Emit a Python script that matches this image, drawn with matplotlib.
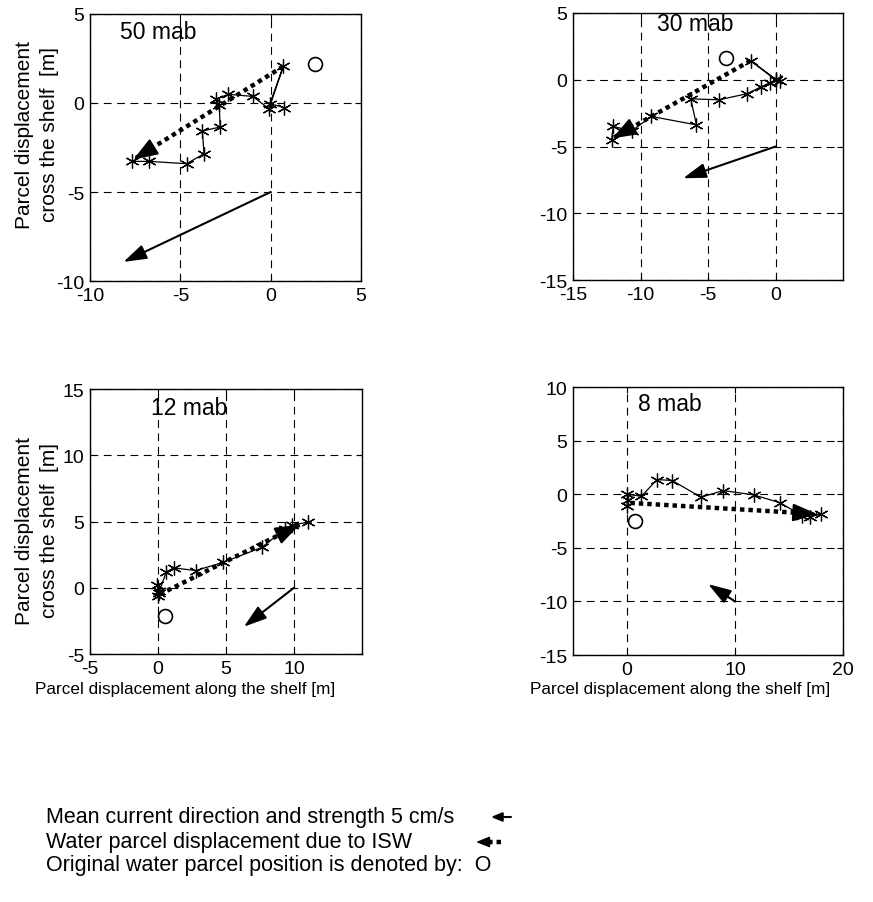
import numpy as np
import matplotlib
matplotlib.use("Agg")
import matplotlib.pyplot as plt
from matplotlib.patches import FancyArrowPatch
from matplotlib.lines import Line2D

plt.rcParams['font.family'] = ['Liberation Sans', 'DejaVu Sans']
plt.rcParams['axes.unicode_minus'] = False

# ---- data ---------------------------------------------------------------
# 50 mab
traj50_x = [0.76, -0.04, 0.70, -0.09, -1.00, -2.34, -3.03, -2.84, -2.80, -3.78, -3.69, -4.65, -6.72, -7.69]
traj50_y = [-0.26, -0.04, 2.06, -0.32, 0.37, 0.49, 0.22, -0.13, -1.35, -1.57, -2.85, -3.41, -3.28, -3.28]
isw50 = [(0.70, 2.06), (-7.6, -3.18)]
cur50 = [(0.0, -5.0), (-8.15, -8.93)]
orig50 = (2.45, 2.21)

# 30 mab
traj30_x = [0.34, 0.00, -1.85, 0.00, -0.44, -1.11, -2.12, -4.19, -6.28, -5.86, -9.19, -10.66, -12.02, -12.14]
traj30_y = [-0.13, 0.05, 1.43, 0.00, -0.25, -0.55, -1.05, -1.50, -1.43, -3.38, -2.75, -3.83, -3.50, -4.50]
isw30 = [(-1.85, 1.43), (-12.1, -4.4)]
cur30 = [(0.0, -5.0), (-6.85, -7.38)]
orig30 = (-3.65, 1.63)

# 12 mab
traj12_x = [0.00, 0.10, -0.05, 0.05, 0.61, 1.15, 2.78, 4.79, 7.62, 9.34, 9.83, 11.06]
traj12_y = [-0.60, -0.25, 0.20, -0.40, 1.20, 1.50, 1.30, 1.92, 3.04, 4.44, 4.74, 4.94]
isw12 = [(0.12, -0.50), (10.4, 4.75)]
cur12 = [(10.0, 0.0), (6.31, -2.94)]
orig12 = (0.49, -2.12)

# 8 mab
traj8_x = [0.00, 0.05, 0.00, 1.33, 2.78, 4.17, 6.85, 8.89, 11.73, 14.20, 16.20, 16.98, 17.96]
traj8_y = [-1.06, -0.50, 0.00, -0.19, 1.37, 1.28, -0.28, 0.34, -0.06, -0.81, -2.00, -2.10, -1.84]
isw8 = [(0.31, -0.81), (17.6, -1.84)]
cur8 = [(10.0, -10.0), (7.50, -8.38)]
orig8 = (0.77, -2.46)

labels = ['50 mab', '30 mab', '12 mab', '8 mab']
xlims = [(-10, 5), (-15, 5), (-5, 15), (-5, 20)]
ylims = [(-10, 5), (-15, 5), (-5, 15), (-15, 10)]
xticks = [[-10, -5, 0, 5], [-15, -10, -5, 0], [-5, 0, 5, 10], [0, 10, 20]]
yticks = [[-10, -5, 0, 5], [-15, -10, -5, 0, 5], [-5, 0, 5, 10, 15], [-15, -10, -5, 0, 5, 10]]
label_pos = [(0.11, 0.933), (0.31, 0.959), (0.224, 0.932), (0.24, 0.937)]

trajs = [(traj50_x, traj50_y), (traj30_x, traj30_y), (traj12_x, traj12_y), (traj8_x, traj8_y)]
isws = [isw50, isw30, isw12, isw8]
curs = [cur50, cur30, cur12, cur8]
origs = [orig50, orig30, orig12, orig8]

ast = (6, 2, 0)  # matlab-ish asterisk
cur_style = '-|>,head_length=1.4,head_width=0.45'
isw_style = '-|>,head_length=1.5,head_width=0.55'
isw_dash = (0, (1.0, 0.9))


def current_arrow(ax, p0, p1, lw=1.5):
    ax.annotate('', xy=p1, xytext=p0,
                arrowprops=dict(arrowstyle=cur_style, lw=lw, color='k',
                                shrinkA=0, shrinkB=0))


def isw_arrow(ax, p0, p1):
    ax.plot([p0[0], p1[0]], [p0[1], p1[1]], color='k', lw=3.2,
            linestyle=isw_dash, solid_capstyle='butt')
    # filled head only
    d = np.array(p1) - np.array(p0)
    q = np.array(p1) - 0.08 * d
    ax.annotate('', xy=p1, xytext=tuple(q),
                arrowprops=dict(arrowstyle=isw_style, lw=1.5, color='k',
                                shrinkA=0, shrinkB=0))


fig = plt.figure(figsize=(8.73, 9.03), dpi=100)
rects = [[0.1031, 0.6877, 0.3104, 0.2957],
         [0.6564, 0.6888, 0.3093, 0.2957],
         [0.1031, 0.2746, 0.3116, 0.2935],
         [0.6564, 0.2735, 0.3093, 0.2968]]

for i in range(4):
    ax = fig.add_axes(rects[i])
    ax.set_xlim(xlims[i])
    ax.set_ylim(ylims[i])
    ax.set_xticks(xticks[i])
    ax.set_yticks(yticks[i])
    ax.grid(True, color='k', lw=0.8, linestyle=(0, (7, 5)))
    ax.tick_params(direction='in', length=4, width=0.8, top=True, right=True,
                   labelsize=14, pad=4)
    for s in ax.spines.values():
        s.set_linewidth(1.0)
    tx, ty = trajs[i]
    ax.plot(tx, ty, color='k', lw=0.9, marker=ast, markersize=10, markeredgewidth=0.9)
    isw_arrow(ax, isws[i][0], isws[i][1])
    current_arrow(ax, curs[i][0], curs[i][1])
    ax.plot(origs[i][0], origs[i][1], marker='o', markersize=10, mfc='none',
            mec='k', mew=1.2, linestyle='none')
    ax.text(label_pos[i][0], label_pos[i][1], labels[i], transform=ax.transAxes,
            fontsize=16.5, va='center', ha='left')

ylab = 'Parcel displacement\ncross the shelf  [m]'
fig.text(37 / 873, 1 - 135 / 903, ylab, rotation=90, ha='center', va='center',
         fontsize=15, multialignment='center', linespacing=1.45)
fig.text(37 / 873, 1 - 531 / 903, ylab, rotation=90, ha='center', va='center',
         fontsize=15, multialignment='center', linespacing=1.45)

xlab = 'Parcel displacement along the shelf [m]'
fig.text(185 / 873, 1 - 690 / 903, xlab, ha='center', va='center', fontsize=12.3)
fig.text(680 / 873, 1 - 690 / 903, xlab, ha='center', va='center', fontsize=12.3)

# legend text at the bottom
fs_leg = 15.5
fig.text(46 / 873, 1 - 818 / 903, 'Mean current direction and strength 5 cm/s',
         ha='left', va='center', fontsize=fs_leg)
fig.text(46 / 873, 1 - 843 / 903, 'Water parcel displacement due to ISW',
         ha='left', va='center', fontsize=fs_leg)
fig.text(46 / 873, 1 - 866 / 903, 'Original water parcel position is denoted by:  O',
         ha='left', va='center', fontsize=fs_leg)

y1 = 1 - 818 / 903
fig.add_artist(FancyArrowPatch(
    (511 / 873, y1), (491 / 873, y1), transform=fig.transFigure,
    arrowstyle='-|>,head_length=0.65,head_width=0.27', lw=1.5, color='k',
    mutation_scale=10, shrinkA=0, shrinkB=0))
y2 = 1 - 843 / 903
fig.add_artist(Line2D([501 / 873, 486 / 873], [y2, y2], color='k', lw=3.2,
                      linestyle=isw_dash, transform=fig.transFigure))
fig.add_artist(FancyArrowPatch(
    (488 / 873, y2), (476 / 873, y2), transform=fig.transFigure,
    arrowstyle='-|>,head_length=0.8,head_width=0.32', lw=1.2, color='k',
    mutation_scale=10, shrinkA=0, shrinkB=0))

fig.savefig('out.png', dpi=100)
